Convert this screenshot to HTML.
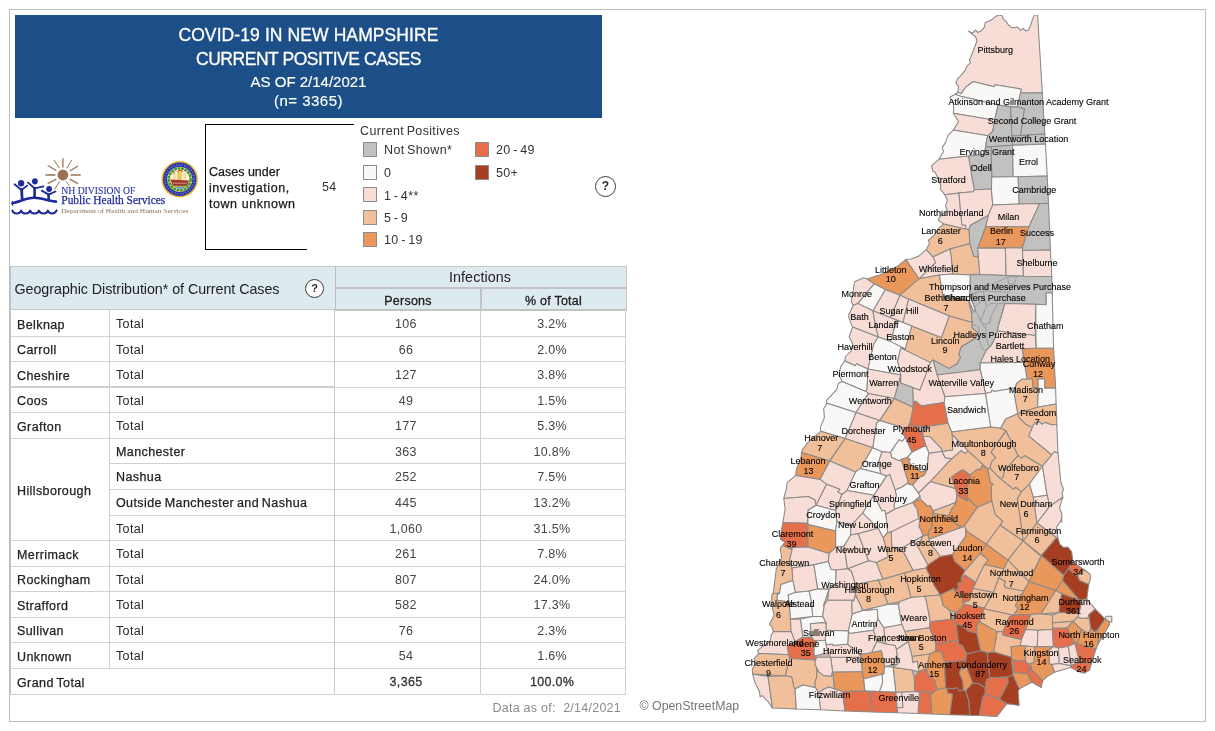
<!DOCTYPE html>
<html lang="en">
<head>
<meta charset="utf-8">
<title>COVID-19 in New Hampshire - Current Positive Cases</title>
<style>
html,body{margin:0;padding:0;background:#fff;}
body{width:1215px;height:731px;position:relative;overflow:hidden;font-family:"Liberation Sans",sans-serif;color:#333;}
.abs{position:absolute;white-space:nowrap;}
#frame{position:absolute;left:9px;top:9px;width:1195px;height:711px;border:1px solid #bdbdbd;}
#hdr{position:absolute;left:15px;top:15px;width:587px;height:103px;background:#1c4e87;color:#fff;}
#hdr div{position:absolute;left:0;width:587px;text-align:center;white-space:nowrap;}
.t1{font-size:17.5px;letter-spacing:0.1px;-webkit-text-stroke:0.3px #fff;}
.t2{font-size:15px;-webkit-text-stroke:0.15px #fff;}
.lg{font-size:12.5px;color:#333;letter-spacing:0.35px;word-spacing:-1.3px;}
.sw{position:absolute;width:12px;height:13px;border:1px solid #8c8c8c;}
.help{position:absolute;width:19px;height:19px;border:1px solid #3c3c3c;border-radius:50%;text-align:center;font-size:12px;font-weight:bold;line-height:19.5px;color:#2a2a2a;background:#fff;}
.hl{position:absolute;background:#d0d0d0;height:1px;}
.vl{position:absolute;background:#d0d0d0;width:1px;}
.bx{font-size:12.5px;color:#1a1a1a;letter-spacing:0.55px;-webkit-text-stroke:0.25px #1a1a1a;}
.th1{font-size:14.3px;color:#222;letter-spacing:-0.05px;}
.th2{font-size:12.5px;color:#222;letter-spacing:0.25px;-webkit-text-stroke:0.3px #222;}
.gt{color:#222;-webkit-text-stroke:0.3px #222;}
.rl{font-size:12.5px;color:#222;letter-spacing:0.4px;word-spacing:-1px;-webkit-text-stroke:0.25px #222;}
.rt{font-size:12.5px;color:#262626;letter-spacing:0.35px;}
.num{font-size:12.5px;color:#444;text-align:center;width:120px;letter-spacing:0.3px;}
</style>
</head>
<body>
<div id="frame"></div>
<div id="hdr">
<div class="t1" style="top:9.5px;">COVID-19 IN NEW HAMPSHIRE</div>
<div class="t1" style="top:33.5px;letter-spacing:-0.45px;">CURRENT POSITIVE CASES</div>
<div class="t2" style="top:58px;">AS OF 2/14/2021</div>
<div class="t2" style="top:76.5px;letter-spacing:0.5px;">(n= 3365)</div>
</div>
<svg class="abs" style="left:10px;top:150px;" width="195" height="70" viewBox="10 150 195 70">
<g stroke="#9a7252" stroke-width="1.3" stroke-linecap="butt" fill="none">
<circle cx="62.9" cy="175" r="5.4" fill="#9a7252" stroke="none"/>
<path d="M62.9 158.3V167.6M45.5 175H55.4M70.6 175H80.7M47.7 165.5L56.3 170.5M78 166L69.7 171M47.7 183.6L56.3 179.1M78 183.6L69.7 179.1"/>
<path stroke-width="1" d="M54 160.1L59.5 168.3M71.7 160.1L66.7 168.3M54.5 189.5L59.5 181.3M69.4 185.6L65.8 181.3"/>
</g>
<g fill="#1c2a9c" stroke="none">
<ellipse cx="21.1" cy="183.2" rx="3.1" ry="3.3"/>
<ellipse cx="34.9" cy="181.3" rx="2.9" ry="3.1"/>
<ellipse cx="49.1" cy="189" rx="2.9" ry="2.9"/>
</g>
<g stroke="#1c2a9c" fill="none" stroke-linecap="round" stroke-linejoin="round">
<path stroke-width="1.8" d="M14.5 184.3L21.5 190L27.2 185.6"/>
<path stroke-width="2.8" d="M21.6 189.5L22.2 199.5"/>
<path stroke-width="1.8" d="M28 182.6L34.6 188.3L43.5 186.4"/>
<path stroke-width="2.6" d="M34.6 188.3V197.5"/>
<path stroke-width="1.8" d="M41.8 190.6L48.6 194.6L55.4 191.5"/>
<path stroke-width="2.6" d="M48.6 194.6V200"/>
<path stroke-width="2.6" d="M12.6 203.2C22 201 26 197.8 34 197.8C42 197.8 48 201 56 201.6"/>
<path stroke-width="1.4" d="M12.4 205L12.4 201.8"/>
<path stroke-width="2" d="M12.4 210.4C13.5 214.5 19.5 214.5 21.2 210.6C22.5 214.5 28.5 214.5 30.1 210.6C31.5 214.5 37.5 214.5 39 210.6C40.5 214.5 46.5 214.5 47.9 210.6C49.5 214.5 55 214.5 56.6 210.4"/>
</g>
<g font-family="'Liberation Serif',serif">
<text x="61.3" y="194.3" font-size="9.4" fill="#2f3ba6" stroke="#2f3ba6" stroke-width="0.15" textLength="74" lengthAdjust="spacingAndGlyphs">NH DIVISION OF</text>
<text x="61.3" y="204.3" font-size="12" fill="#1c2a9c" stroke="#1c2a9c" stroke-width="0.25" textLength="104" lengthAdjust="spacingAndGlyphs">Public Health Services</text>
<text x="61.3" y="212.8" font-size="7" fill="#8c6e58" textLength="127" lengthAdjust="spacingAndGlyphs">Department of Health and Human Services</text>
</g>
<g>
<circle cx="179.7" cy="179.3" r="18.2" fill="#f0b42e"/>
<circle cx="179.7" cy="179.3" r="16.7" fill="#2234b6"/>
<circle cx="179.7" cy="179.3" r="14.6" fill="none" stroke="#d8b860" stroke-opacity="0.55" stroke-width="2" stroke-dasharray="1 1.7"/>
<circle cx="179.7" cy="179.3" r="12.6" fill="#f4d27a"/>
<circle cx="179.7" cy="179.3" r="10.9" fill="none" stroke="#2c9a42" stroke-width="2.5" stroke-dasharray="2.6 0.9"/>
<circle cx="179.7" cy="179.3" r="9.5" fill="#fdf4dc"/>
<clipPath id="sealclip"><circle cx="179.7" cy="179.3" r="9.5"/></clipPath>
<g clip-path="url(#sealclip)">
<rect x="168" y="182.5" width="24" height="10" fill="#f0a226"/>
<path d="M170 184.5L176 182.5H184L190 184.5V186H170Z" fill="#3f9a48"/>
<ellipse cx="181" cy="189" rx="6.5" ry="2.4" fill="#4aa2e4"/>
<rect x="173.4" y="172.8" width="2.4" height="7" fill="#f3dc98"/>
<rect x="177.2" y="171.2" width="4.6" height="9" fill="#f2c658"/>
<rect x="183.4" y="172.8" width="2.6" height="7" fill="#f3dc98"/>
<path d="M177.5 171.6L180 169.9L183 171.6" stroke="#d8402c" stroke-width="1.1" fill="none"/>
<path d="M172.6 173.4L175 171.6" stroke="#e06a6a" stroke-width="1.3" fill="none"/>
<path d="M170 179.6L189.4 180.6L187.2 185.4H173.2Z" fill="#a6362a"/>
<rect x="173" y="182.7" width="13.8" height="1.1" fill="#c48a84"/>
</g>
</g>
</svg>

<div class="abs" style="left:205px;top:124px;width:1px;height:126px;background:#000;"></div>
<div class="abs" style="left:205px;top:124px;width:149px;height:1px;background:#000;"></div>
<div class="abs" style="left:205px;top:249px;width:102px;height:1px;background:#000;"></div>
<div class="abs bx" style="left:209px;top:165px;letter-spacing:0;">Cases under</div>
<div class="abs bx" style="left:209px;top:181px;">investigation,</div>
<div class="abs bx" style="left:209px;top:197px;">town unknown</div>
<div class="abs lg" style="left:322px;top:180px;">54</div>
<div class="abs lg" style="left:360px;top:124px;">Current Positives</div>
<div class="sw" style="left:363px;top:142px;background:#c3c1c0;"></div>
<div class="sw" style="left:363px;top:165px;background:#faf8f7;"></div>
<div class="sw" style="left:363px;top:187px;background:#f8ddd6;"></div>
<div class="sw" style="left:363px;top:210px;background:#f1c09b;"></div>
<div class="sw" style="left:363px;top:232px;background:#e9975a;"></div>
<div class="sw" style="left:475px;top:142px;background:#e56f4a;"></div>
<div class="sw" style="left:475px;top:165px;background:#a63f21;"></div>
<div class="abs lg" style="left:384px;top:143px;">Not Shown*</div>
<div class="abs lg" style="left:384px;top:166px;">0</div>
<div class="abs lg" style="left:384px;top:188.5px;">1 - 4**</div>
<div class="abs lg" style="left:384px;top:211px;">5 - 9</div>
<div class="abs lg" style="left:384px;top:233px;">10 - 19</div>
<div class="abs lg" style="left:496px;top:143px;">20 - 49</div>
<div class="abs lg" style="left:496px;top:166px;">50+</div>
<div class="help" style="left:595px;top:176px;">?</div>

<div class="abs" style="left:10px;top:266px;width:617px;height:44px;background:#ddeaf0;"></div>
<div class="hl" style="left:10px;top:266px;width:617px;background:#c6c6c6;"></div>
<div class="vl" style="left:335px;top:266px;height:45px;background:#bdbdbd;"></div>
<div class="hl" style="left:336px;top:287px;width:291px;height:2px;background:#c2c2c2;"></div>
<div class="hl" style="left:10px;top:309px;width:325px;height:1px;background:#c6c6c6;"></div>
<div class="hl" style="left:335px;top:309px;width:292px;height:2px;background:#c2c2c2;"></div>
<div class="vl" style="left:480px;top:289px;height:21px;width:2px;background:#c2c2c2;"></div>
<div class="vl" style="left:626px;top:266px;height:45px;background:#c6c6c6;"></div>
<div class="abs th1" style="left:14.5px;top:281px;">Geographic Distribution* of Current Cases</div>
<div class="help" style="left:305px;top:279px;width:17px;height:17px;line-height:17.5px;font-size:11px;">?</div>
<div class="abs th1" style="left:380px;top:268.5px;width:200px;text-align:center;letter-spacing:0.1px;">Infections</div>
<div class="abs th2" style="left:335px;top:294px;width:146px;text-align:center;">Persons</div>
<div class="abs th2" style="left:481px;top:294px;width:145px;text-align:center;">% of Total</div>
<div class="vl" style="left:10px;top:266px;height:429px;background:#c4c4c4;"></div>
<div class="vl" style="left:109px;top:310px;height:358px;"></div>
<div class="vl" style="left:334px;top:310px;height:384px;background:#c8c8c8;"></div>
<div class="vl" style="left:480px;top:310px;height:384px;"></div>
<div class="vl" style="left:625px;top:310px;height:384px;"></div>
<div class="hl" style="left:10px;top:336px;width:325px;"></div>
<div class="hl" style="left:335px;top:336px;width:291px;"></div>
<div class="hl" style="left:10px;top:361px;width:325px;"></div>
<div class="hl" style="left:335px;top:361px;width:291px;"></div>
<div class="hl" style="left:10px;top:386px;width:325px;height:2px;"></div>
<div class="hl" style="left:335px;top:387px;width:291px;"></div>
<div class="hl" style="left:10px;top:412px;width:325px;"></div>
<div class="hl" style="left:335px;top:412px;width:291px;"></div>
<div class="hl" style="left:10px;top:438px;width:325px;"></div>
<div class="hl" style="left:335px;top:438px;width:291px;"></div>
<div class="hl" style="left:109px;top:463px;width:226px;"></div>
<div class="hl" style="left:335px;top:463px;width:291px;"></div>
<div class="hl" style="left:109px;top:489px;width:226px;"></div>
<div class="hl" style="left:335px;top:489px;width:291px;"></div>
<div class="hl" style="left:109px;top:515px;width:226px;"></div>
<div class="hl" style="left:335px;top:515px;width:291px;"></div>
<div class="hl" style="left:10px;top:540px;width:325px;"></div>
<div class="hl" style="left:335px;top:540px;width:291px;"></div>
<div class="hl" style="left:10px;top:566px;width:325px;"></div>
<div class="hl" style="left:335px;top:566px;width:291px;"></div>
<div class="hl" style="left:10px;top:591px;width:325px;"></div>
<div class="hl" style="left:335px;top:591px;width:291px;"></div>
<div class="hl" style="left:10px;top:617px;width:325px;"></div>
<div class="hl" style="left:335px;top:617px;width:291px;"></div>
<div class="hl" style="left:10px;top:642px;width:325px;"></div>
<div class="hl" style="left:335px;top:642px;width:291px;"></div>
<div class="hl" style="left:10px;top:668px;width:325px;"></div>
<div class="hl" style="left:335px;top:668px;width:291px;"></div>
<div class="hl" style="left:10px;top:694px;width:325px;"></div>
<div class="hl" style="left:335px;top:694px;width:291px;"></div>
<div class="abs rl" style="left:17px;top:317.7px;">Belknap</div>
<div class="abs rt" style="left:116px;top:317.2px;">Total</div>
<div class="abs num" style="left:346px;top:317.2px;">106</div>
<div class="abs num" style="left:492px;top:317.2px;">3.2%</div>
<div class="abs rl" style="left:17px;top:343.2px;">Carroll</div>
<div class="abs rt" style="left:116px;top:342.7px;">Total</div>
<div class="abs num" style="left:346px;top:342.7px;">66</div>
<div class="abs num" style="left:492px;top:342.7px;">2.0%</div>
<div class="abs rl" style="left:17px;top:368.7px;">Cheshire</div>
<div class="abs rt" style="left:116px;top:368.2px;">Total</div>
<div class="abs num" style="left:346px;top:368.2px;">127</div>
<div class="abs num" style="left:492px;top:368.2px;">3.8%</div>
<div class="abs rl" style="left:17px;top:394.2px;">Coos</div>
<div class="abs rt" style="left:116px;top:393.7px;">Total</div>
<div class="abs num" style="left:346px;top:393.7px;">49</div>
<div class="abs num" style="left:492px;top:393.7px;">1.5%</div>
<div class="abs rl" style="left:17px;top:419.7px;">Grafton</div>
<div class="abs rt" style="left:116px;top:419.2px;">Total</div>
<div class="abs num" style="left:346px;top:419.2px;">177</div>
<div class="abs num" style="left:492px;top:419.2px;">5.3%</div>
<div class="abs rl" style="left:116px;top:444.7px;">Manchester</div>
<div class="abs num" style="left:346px;top:444.7px;">363</div>
<div class="abs num" style="left:492px;top:444.7px;">10.8%</div>
<div class="abs rl" style="left:116px;top:470.2px;">Nashua</div>
<div class="abs num" style="left:346px;top:470.2px;">252</div>
<div class="abs num" style="left:492px;top:470.2px;">7.5%</div>
<div class="abs rl" style="left:116px;top:496.2px;">Outside Manchester and Nashua</div>
<div class="abs num" style="left:346px;top:496.2px;">445</div>
<div class="abs num" style="left:492px;top:496.2px;">13.2%</div>
<div class="abs rt" style="left:116px;top:521.7px;">Total</div>
<div class="abs num" style="left:346px;top:521.7px;">1,060</div>
<div class="abs num" style="left:492px;top:521.7px;">31.5%</div>
<div class="abs rl" style="left:17px;top:547.7px;">Merrimack</div>
<div class="abs rt" style="left:116px;top:547.2px;">Total</div>
<div class="abs num" style="left:346px;top:547.2px;">261</div>
<div class="abs num" style="left:492px;top:547.2px;">7.8%</div>
<div class="abs rl" style="left:17px;top:573.2px;">Rockingham</div>
<div class="abs rt" style="left:116px;top:572.7px;">Total</div>
<div class="abs num" style="left:346px;top:572.7px;">807</div>
<div class="abs num" style="left:492px;top:572.7px;">24.0%</div>
<div class="abs rl" style="left:17px;top:598.7px;">Strafford</div>
<div class="abs rt" style="left:116px;top:598.2px;">Total</div>
<div class="abs num" style="left:346px;top:598.2px;">582</div>
<div class="abs num" style="left:492px;top:598.2px;">17.3%</div>
<div class="abs rl" style="left:17px;top:624.2px;">Sullivan</div>
<div class="abs rt" style="left:116px;top:623.7px;">Total</div>
<div class="abs num" style="left:346px;top:623.7px;">76</div>
<div class="abs num" style="left:492px;top:623.7px;">2.3%</div>
<div class="abs rl" style="left:17px;top:649.7px;">Unknown</div>
<div class="abs rt" style="left:116px;top:649.2px;">Total</div>
<div class="abs num" style="left:346px;top:649.2px;">54</div>
<div class="abs num" style="left:492px;top:649.2px;">1.6%</div>
<div class="abs rl" style="left:17px;top:675.7px;">Grand Total</div>
<div class="abs num gt" style="left:346px;top:675.2px;">3,365</div>
<div class="abs num gt" style="left:492px;top:675.2px;">100.0%</div>
<div class="abs rl" style="left:17px;top:483.7px;">Hillsborough</div>
<div class="abs" style="left:421px;top:700.8px;width:200px;text-align:right;font-size:12.5px;color:#8a8a8a;letter-spacing:0.25px;">Data as of:&nbsp; 2/14/2021</div>
<svg class="abs" style="left:630px;top:15px;" width="576" height="707" viewBox="630 15 576 707">
<polygon fill="#c9b4aa" stroke="none" points="752.2,669.2 752.2,669.2 752.6,674.1 752.6,674.1 752.6,674.2 754.9,682.4 754.9,682.4 754.9,682.4 759.4,691.4 759.5,691.6 759.5,691.7 759.5,691.8 760.1,696.9 760.1,696.9 760.2,696.9 761.3,696.1 761.4,696.1 761.5,696.0 761.6,696.0 761.7,695.9 761.9,695.9 762.0,695.9 762.1,695.9 762.2,695.9 762.3,696.0 762.4,696.0 762.5,696.1 762.6,696.1 762.7,696.2 762.8,696.3 767.3,700.8 767.4,700.8 767.4,700.9 772.6,708.1 772.7,708.1 772.7,708.1 796.4,709.0 820.7,709.8 820.7,709.8 845.1,711.1 845.1,711.1 872.7,712.0 897.7,712.7 897.8,712.7 918.0,713.6 918.0,713.6 931.9,714.0 931.9,714.0 949.6,714.7 969.8,715.3 979.3,715.6 979.3,715.6 997.0,716.4 997.0,716.4 997.1,716.4 1006.5,704.3 1006.6,704.2 1006.7,704.1 1006.8,704.0 1006.8,704.0 1006.9,703.9 1007.1,703.9 1007.2,703.9 1007.3,703.8 1007.4,703.8 1007.5,703.8 1007.6,703.8 1019.2,705.4 1019.2,705.4 1019.2,705.4 1018.1,691.4 1018.1,691.3 1018.2,691.1 1018.2,691.0 1018.2,690.9 1018.2,690.8 1018.3,690.7 1018.3,690.6 1019.3,689.2 1019.3,689.1 1019.4,689.0 1019.5,688.9 1019.6,688.8 1019.7,688.8 1028.0,684.3 1028.0,684.3 1031.4,682.6 1031.5,682.6 1031.6,682.5 1031.7,682.5 1031.8,682.5 1031.9,682.5 1032.1,682.5 1032.2,682.5 1032.3,682.6 1032.4,682.6 1032.5,682.6 1041.1,687.6 1041.2,687.6 1041.2,687.6 1042.6,681.2 1042.6,681.1 1042.6,681.0 1042.7,680.9 1042.7,680.8 1042.8,680.7 1042.9,680.6 1046.5,677.0 1046.5,677.0 1046.6,676.9 1046.7,676.8 1054.4,672.4 1054.5,672.3 1054.6,672.3 1070.1,667.6 1070.2,667.5 1070.3,667.5 1070.4,667.5 1070.5,667.5 1070.7,667.6 1070.8,667.6 1070.9,667.6 1071.0,667.7 1078.2,671.6 1078.2,671.6 1078.2,671.6 1084.1,673.2 1084.1,673.2 1084.1,673.2 1089.4,670.3 1089.4,670.3 1089.4,670.3 1091.4,663.7 1091.4,663.7 1095.9,649.1 1096.0,648.9 1097.9,644.7 1098.0,644.6 1109.8,624.0 1109.8,624.0 1109.8,623.9 1109.7,623.9 1109.7,623.8 1109.6,623.6 1109.6,623.5 1109.6,623.4 1109.6,623.3 1109.6,623.2 1109.6,623.1 1109.6,622.9 1109.7,622.8 1109.7,622.7 1109.8,622.6 1109.9,622.5 1109.9,622.4 1110.0,622.4 1110.1,622.3 1110.2,622.2 1110.3,622.2 1110.4,622.1 1110.5,622.1 1110.7,622.1 1110.8,622.1 1110.9,622.1 1111.0,622.1 1111.7,622.3 1111.8,622.3 1111.8,622.2 1111.8,616.4 1111.8,616.3 1111.7,616.3 1105.9,616.3 1105.8,616.3 1105.8,616.4 1105.7,616.9 1105.7,617.0 1105.6,617.1 1105.6,617.2 1105.5,617.3 1105.4,617.4 1105.3,617.5 1105.3,617.6 1105.2,617.6 1105.1,617.7 1105.0,617.7 1104.9,617.8 1104.7,617.8 1104.6,617.8 1104.5,617.8 1104.4,617.8 1104.3,617.8 1104.2,617.8 1104.1,617.7 1104.0,617.7 1103.9,617.6 1103.8,617.5 1103.7,617.5 1095.3,609.1 1095.3,609.1 1087.1,599.5 1087.0,599.4 1087.0,599.3 1086.9,599.2 1086.9,599.1 1086.8,599.0 1086.8,598.9 1086.8,598.8 1086.8,598.7 1086.8,598.6 1088.7,584.6 1088.7,584.5 1088.7,584.4 1090.7,577.9 1090.7,577.9 1090.7,577.9 1090.0,574.0 1090.0,573.9 1090.0,573.9 1084.8,570.0 1084.7,570.0 1078.2,566.1 1078.1,566.0 1073.3,562.4 1073.2,562.3 1073.2,562.2 1073.1,562.1 1073.0,562.0 1073.0,561.9 1072.9,561.8 1072.9,561.7 1072.9,561.6 1072.3,556.8 1071.6,551.6 1071.6,551.6 1071.6,551.5 1067.7,547.0 1067.6,547.0 1067.6,547.0 1064.2,547.5 1064.1,547.5 1064.0,547.5 1063.9,547.5 1063.8,547.5 1063.7,547.5 1063.6,547.4 1063.5,547.4 1063.4,547.3 1063.3,547.2 1060.0,544.5 1059.9,544.5 1059.9,544.4 1059.8,544.3 1059.7,544.2 1059.7,544.1 1059.6,544.0 1057.8,537.8 1057.8,537.7 1057.8,537.6 1056.5,527.6 1056.5,527.5 1056.5,527.4 1056.5,527.3 1056.6,527.1 1056.6,527.0 1056.7,526.9 1056.7,526.8 1059.8,522.4 1059.9,522.3 1060.0,522.2 1060.0,522.2 1060.1,522.1 1060.2,522.0 1060.3,522.0 1060.5,521.9 1060.6,521.9 1060.7,521.9 1060.8,521.9 1060.9,521.9 1061.0,521.9 1061.1,521.9 1061.2,522.0 1061.3,522.0 1061.4,522.1 1061.5,522.2 1061.6,522.2 1061.6,522.2 1061.9,514.3 1061.9,514.3 1061.9,514.3 1059.7,508.1 1059.7,508.0 1059.7,507.9 1059.6,507.7 1059.6,507.6 1059.7,507.5 1059.7,507.4 1059.7,507.3 1062.9,497.2 1062.9,497.2 1062.9,497.1 1062.0,493.6 1062.0,493.5 1062.0,493.3 1062.0,493.2 1062.0,493.1 1062.1,493.0 1062.1,492.9 1063.5,489.3 1063.5,489.3 1063.5,489.2 1061.0,482.8 1060.9,482.7 1060.9,482.6 1060.9,482.5 1058.0,453.1 1058.0,453.0 1057.0,430.0 1056.9,430.0 1056.9,424.3 1056.9,424.3 1056.1,403.9 1056.1,403.9 1055.6,388.1 1055.6,388.1 1053.6,348.3 1053.6,348.3 1052.2,292.9 1052.2,292.9 1051.8,276.4 1051.8,276.4 1050.4,250.0 1050.4,250.0 1048.5,203.3 1047.2,176.0 1045.5,143.9 1045.5,143.9 1044.9,134.1 1044.8,134.1 1042.4,92.7 1037.6,15.0 1037.6,15.0 1037.6,15.0 1034.3,15.0 1034.3,15.0 1034.3,15.0 1032.4,19.9 1032.3,19.9 1031.0,24.4 1031.0,24.5 1031.0,24.6 1028.6,29.6 1028.5,29.7 1028.5,29.8 1028.4,29.9 1028.3,30.0 1028.2,30.0 1028.2,30.1 1028.1,30.1 1028.0,30.2 1026.5,30.8 1026.4,30.8 1026.3,30.8 1026.2,30.9 1026.0,30.9 1025.9,30.9 1025.8,30.8 1025.7,30.8 1025.6,30.8 1025.5,30.7 1025.4,30.7 1025.3,30.6 1025.2,30.5 1023.1,28.5 1023.1,28.4 1023.1,28.5 1021.4,29.8 1021.3,29.8 1021.2,29.9 1021.0,29.9 1020.9,30.0 1020.8,30.0 1020.7,30.0 1020.6,30.0 1020.5,30.0 1020.4,30.0 1020.2,29.9 1020.1,29.9 1020.0,29.8 1019.9,29.8 1019.8,29.7 1019.8,29.6 1017.2,26.9 1017.2,26.9 1017.2,26.9 1012.5,27.7 1012.4,27.7 1012.2,27.7 1012.1,27.7 1012.0,27.7 1011.9,27.7 1011.8,27.6 1011.7,27.6 1011.6,27.5 1011.5,27.4 1008.8,25.3 1008.7,25.2 1008.6,25.1 1008.5,25.0 1006.0,21.2 1006.0,21.2 1006.0,21.2 1003.7,19.4 1003.6,19.4 1003.5,19.3 1003.4,19.2 1003.3,19.1 1003.3,19.0 1003.2,18.9 1002.1,15.6 1002.0,15.5 1002.0,15.5 998.1,15.0 998.1,15.0 998.1,15.0 994.8,17.2 994.8,17.3 991.0,20.2 990.9,20.2 990.8,20.3 990.7,20.3 985.4,22.5 985.3,22.5 985.3,22.5 984.3,26.8 984.3,26.9 984.3,27.1 984.2,27.2 984.2,27.3 984.1,27.3 981.2,30.8 981.1,30.9 981.0,31.0 980.9,31.1 980.8,31.1 980.7,31.2 978.5,32.1 978.4,32.1 978.3,32.1 978.2,32.1 978.0,32.2 977.9,32.1 977.8,32.1 977.7,32.1 977.6,32.1 977.5,32.0 977.4,32.0 977.3,31.9 977.2,31.8 977.1,31.7 975.7,30.0 975.7,30.0 975.7,30.0 973.0,32.5 972.9,32.6 972.8,32.6 972.7,32.7 972.6,32.7 972.5,32.8 972.4,32.8 972.3,32.8 972.2,32.8 972.0,32.8 971.9,32.8 971.8,32.7 971.7,32.7 968.5,31.1 968.5,31.1 968.5,31.1 975.4,36.8 975.5,36.8 975.6,36.9 975.7,37.0 975.7,37.1 975.8,37.2 975.8,37.3 976.9,40.5 976.9,40.7 976.9,40.8 977.0,40.9 977.0,41.0 976.9,41.1 976.9,41.2 976.9,41.4 973.7,49.5 973.7,49.5 971.1,56.1 969.5,60.0 969.5,60.0 969.5,60.1 970.2,62.0 970.2,62.1 970.3,62.2 970.3,62.3 970.3,62.4 970.3,62.6 970.2,62.7 970.2,62.8 970.1,62.9 970.1,63.0 970.0,63.1 969.9,63.2 967.2,65.9 967.2,66.0 967.1,66.0 964.6,71.1 964.5,71.2 964.4,71.3 960.6,75.8 960.5,75.9 957.3,79.1 957.3,79.1 957.3,79.2 956.0,83.1 956.0,83.1 956.0,83.1 958.3,86.0 958.4,86.1 958.4,86.2 958.5,86.3 958.5,86.4 958.5,86.5 958.5,86.6 958.6,86.8 958.5,86.9 958.0,91.8 958.0,91.9 958.0,92.0 957.9,92.1 957.9,92.2 957.8,92.3 957.7,92.4 957.7,92.5 957.6,92.5 957.5,92.6 955.2,94.2 955.1,94.2 949.8,97.2 949.8,97.2 949.8,97.2 953.1,102.3 953.2,102.4 953.2,102.6 953.3,102.7 953.3,102.8 953.3,102.9 953.8,110.8 953.8,110.9 953.8,111.1 953.8,111.2 953.3,113.2 953.3,113.2 953.3,113.2 958.2,120.9 958.3,121.0 958.3,121.1 958.3,121.3 958.4,121.4 958.4,121.5 958.4,121.6 958.4,121.7 958.3,121.9 958.3,122.0 958.3,122.1 958.2,122.2 953.4,130.0 953.3,130.1 953.2,130.2 948.1,135.4 948.1,135.4 948.0,135.4 945.5,142.5 945.4,142.6 945.4,142.7 942.2,147.9 942.1,147.9 942.1,147.9 943.3,151.3 943.3,151.4 943.3,151.5 943.3,151.7 943.3,151.8 943.3,151.9 943.3,152.0 943.3,152.1 943.2,152.2 943.2,152.3 938.9,159.2 938.9,159.3 938.8,159.4 938.7,159.5 931.6,165.7 931.6,165.7 931.6,165.7 932.9,171.6 932.9,171.6 932.9,171.6 934.3,171.9 934.4,171.9 934.6,172.0 934.7,172.0 934.8,172.1 934.9,172.1 935.0,172.2 935.0,172.3 935.1,172.4 935.2,172.5 938.2,178.5 938.2,178.6 940.7,184.9 940.7,185.0 940.8,185.1 940.8,185.2 940.8,185.3 940.8,185.4 940.8,185.5 940.2,189.1 940.2,189.1 940.2,189.1 944.7,194.5 944.7,194.6 944.8,194.7 944.8,194.8 947.2,199.9 947.3,200.0 947.3,200.1 947.3,200.2 947.3,200.3 947.3,200.4 947.3,200.5 947.3,200.7 947.3,200.8 945.4,206.2 945.4,206.2 945.4,206.3 946.9,208.7 947.0,208.8 947.0,208.9 947.1,209.0 947.1,209.2 947.1,209.3 947.1,209.4 947.1,209.5 947.1,209.6 947.0,209.7 947.0,209.8 946.9,209.9 946.9,210.0 946.8,210.1 946.7,210.2 939.5,217.4 939.5,217.4 939.5,217.5 938.2,220.0 938.2,220.1 938.2,220.1 942.2,223.1 942.3,223.2 942.4,223.3 942.5,223.4 942.6,223.5 942.6,223.6 942.7,223.7 942.7,223.8 942.7,223.9 942.7,224.0 942.7,224.1 942.7,224.3 942.7,224.4 942.6,224.5 942.6,224.6 942.5,224.7 942.5,224.8 942.4,224.9 942.3,225.0 939.5,227.3 939.5,227.3 939.5,227.3 934.3,235.1 934.3,235.2 934.2,235.2 934.1,235.3 928.3,240.5 928.3,240.5 928.3,240.5 929.4,242.6 929.4,242.7 929.4,242.8 929.5,242.9 929.5,243.0 929.5,243.2 929.5,243.3 929.4,243.4 929.4,243.5 929.4,243.6 926.5,249.5 926.4,249.6 926.3,249.7 926.2,249.8 926.1,249.9 918.6,256.1 918.5,256.2 918.4,256.3 918.3,256.3 918.2,256.4 911.3,258.9 911.2,258.9 911.1,258.9 905.9,259.6 905.8,259.6 905.8,259.6 898.0,265.8 897.9,265.9 897.8,266.0 879.6,275.1 879.5,275.1 879.4,275.1 867.4,278.9 867.3,279.0 867.2,279.0 867.1,279.0 866.9,279.0 866.8,279.0 866.7,278.9 866.6,278.9 863.7,277.8 863.7,277.8 863.7,277.8 854.5,281.7 854.5,281.7 854.5,281.7 853.2,290.9 853.2,290.9 851.2,301.4 851.2,301.5 851.2,301.5 852.9,304.9 853.0,305.0 853.0,305.1 853.0,305.2 853.0,305.4 853.0,305.5 853.0,305.6 853.0,305.7 853.0,305.8 852.9,305.9 848.2,315.9 848.2,315.9 848.2,316.0 852.4,326.7 852.4,326.8 852.4,327.0 852.4,327.1 852.4,327.2 852.4,327.3 852.4,327.4 852.4,327.5 849.2,337.0 849.2,337.0 849.2,337.0 852.5,343.6 852.5,343.7 852.6,343.8 852.6,344.0 852.6,344.1 852.6,344.2 852.6,344.3 852.6,344.4 851.4,350.2 851.4,350.3 851.4,350.4 851.3,350.6 851.3,350.7 851.2,350.8 851.1,350.8 845.4,356.5 845.4,356.5 845.4,356.5 844.8,360.8 844.8,360.9 844.8,361.0 844.7,361.2 844.7,361.3 844.6,361.4 840.8,366.4 840.8,366.4 840.8,366.4 838.9,375.6 838.9,375.6 838.9,375.6 840.7,378.1 840.8,378.2 840.8,378.3 840.9,378.4 841.7,380.5 841.8,380.6 841.8,380.7 841.8,380.8 841.8,381.0 841.8,381.1 841.8,381.2 841.8,381.3 841.7,381.4 841.7,381.5 841.6,381.6 841.5,381.7 841.4,381.8 841.4,381.9 841.3,382.0 841.1,382.0 838.2,383.5 838.2,383.5 838.2,383.5 836.9,389.1 836.9,389.2 836.9,389.4 836.8,389.5 836.7,389.6 836.6,389.7 826.4,400.6 826.3,400.6 826.3,400.6 826.9,402.8 826.9,402.9 826.9,403.0 826.9,403.1 826.9,403.2 826.9,403.4 826.8,403.5 826.8,403.6 826.7,403.7 823.7,408.5 823.7,408.5 823.7,408.6 824.3,417.4 824.3,417.6 824.3,417.7 824.3,417.8 824.3,417.9 824.2,418.0 820.4,426.9 820.4,427.0 820.4,427.0 820.7,430.7 820.7,430.8 820.7,430.9 820.6,431.0 820.6,431.2 820.6,431.3 820.5,431.4 820.5,431.5 820.4,431.6 820.3,431.6 820.2,431.7 808.2,441.8 808.2,441.9 808.2,441.9 802.3,449.7 802.3,449.8 802.3,449.8 801.6,452.4 801.6,452.4 801.0,457.5 801.0,457.6 800.9,457.7 800.9,457.8 796.3,469.5 796.3,469.5 796.3,469.5 795.7,475.0 795.7,475.1 795.7,475.2 795.6,475.3 795.6,475.4 795.5,475.5 795.5,475.6 795.4,475.7 795.3,475.7 787.1,482.7 787.1,482.7 787.1,482.7 786.5,487.9 786.4,488.0 783.8,498.5 783.8,498.5 783.8,498.5 785.1,508.8 785.1,509.0 785.1,509.1 785.1,509.2 782.9,522.6 782.9,522.6 781.6,529.2 781.6,529.2 780.3,539.0 780.3,539.0 780.3,539.1 783.9,541.6 784.0,541.7 784.0,541.8 784.1,541.8 784.2,541.9 784.2,542.0 784.3,542.1 784.3,542.2 784.4,542.4 784.4,542.5 784.4,542.6 784.4,542.7 784.3,542.8 784.3,542.9 784.3,543.0 784.2,543.1 784.2,543.2 784.1,543.3 782.3,545.6 782.2,545.7 780.3,547.6 780.3,547.6 780.3,547.6 781.6,557.8 781.6,557.9 781.6,558.0 781.5,558.1 781.5,558.2 781.5,558.4 781.4,558.5 776.4,568.6 776.3,568.7 776.3,568.7 774.4,584.5 774.4,584.5 773.1,593.3 773.1,593.4 773.0,593.5 773.0,593.6 773.0,593.7 772.9,593.8 772.8,593.9 772.8,594.0 771.8,595.0 771.7,595.0 771.7,595.0 772.0,605.9 772.0,605.9 772.0,606.0 773.9,614.8 773.9,614.9 773.9,615.0 773.9,615.1 773.9,615.2 773.9,615.3 773.8,615.4 773.8,615.5 769.4,624.4 769.4,624.4 769.4,624.4 771.8,626.8 771.9,626.9 771.9,627.0 772.0,627.1 772.0,627.2 772.1,627.3 773.2,631.1 773.2,631.2 773.2,631.4 773.2,631.5 773.2,631.6 773.2,631.7 773.1,631.9 773.1,632.0 773.0,632.1 771.4,634.9 771.3,634.9 771.3,635.0 770.1,641.0 770.1,641.1 770.0,641.2 770.0,641.3 769.9,641.4 769.9,641.5 769.8,641.6 769.7,641.7 769.6,641.8 762.1,646.7 762.1,646.8 757.5,650.7 757.5,650.7 757.5,650.7 758.5,652.6 758.5,652.7 758.6,652.9 758.6,653.0 758.6,653.1 758.6,653.2 758.6,653.3 758.6,653.4 758.5,653.6 758.5,653.7 758.4,653.8 758.4,653.9 758.3,654.0 754.2,658.6 754.2,658.6 754.2,658.6 755.4,663.4 755.4,663.5 755.4,663.6 755.4,663.8 755.4,663.9 755.4,664.0 755.4,664.1 755.3,664.2 755.3,664.3 752.3,669.1 752.2,669.2"/>
<g stroke="#8a8a8a" stroke-width="1.05" stroke-linejoin="round">
<polygon fill="#f8ddd6" points="1037.6,15.0 1034.3,15.0 1032.3,19.9 1031.0,24.5 1028.4,30.0 1025.8,31.1 1023.1,28.4 1020.5,30.4 1017.2,26.9 1011.9,27.8 1008.6,25.1 1006.0,21.2 1003.4,19.2 1002.0,15.5 998.1,15.0 994.8,17.2 990.9,20.3 985.3,22.5 984.3,27.1 981.0,31.1 977.7,32.4 975.7,30.0 972.4,33.0 968.5,31.1 975.7,37.0 977.0,41.0 973.7,49.5 971.1,56.1 969.5,60.0 970.5,62.7 967.2,66.0 964.5,71.2 960.6,75.8 957.3,79.1 956.0,83.1 958.6,86.4 957.9,92.3 961.2,93.6 965.2,87.7 973.1,81.5 994.1,86.8 995.1,84.7 1021.1,89.0 1020.5,93.0 1042.3,92.7"/>
<polygon fill="#faf8f7" points="957.9,92.3 961.2,93.6 965.2,87.7 973.1,81.5 994.1,86.8 995.1,84.7 1021.1,89.0 1020.5,93.0 1017.2,107.0 998.2,105.1 983.4,101.6 960.7,96.2 955.2,94.2"/>
<polygon fill="#faf8f7" points="955.2,94.2 960.7,96.2 983.4,101.6 998.2,105.1 994.8,119.4 987.3,118.9 953.3,113.2 953.8,111.0 953.3,102.6 949.8,97.2"/>
<polygon fill="#f8ddd6" points="953.3,113.2 987.3,118.9 994.8,119.4 992.8,131.2 988.0,135.8 953.3,130.1 958.6,121.5"/>
<polygon fill="#faf8f7" points="953.3,130.1 988.0,135.8 986.9,138.2 985.6,147.2 984.3,154.5 968.5,156.1 938.9,159.3 943.5,151.8 942.1,147.9 945.4,142.6 948.1,135.4"/>
<polygon fill="#c3c1c0" points="998.2,105.1 1010.6,107.1 1011.9,136.0 1012.6,145.3 990.9,146.8 985.6,147.2 986.9,138.2 988.0,135.8 992.8,131.2 994.8,119.4"/>
<polygon fill="#c3c1c0" points="1020.5,93.0 1042.3,92.7 1044.8,134.1 1020.5,135.4 1024.4,108.7 1017.2,107.0"/>
<polygon fill="#c3c1c0" points="1010.6,107.1 1017.2,107.0 1024.4,108.7 1020.5,135.4 1011.9,136.0"/>
<polygon fill="#c3c1c0" points="1011.9,136.0 1020.5,135.4 1044.8,134.1 1045.5,143.9 1012.6,145.3"/>
<polygon fill="#c3c1c0" points="990.9,146.8 1012.6,145.3 1013.2,176.7 991.8,177.0"/>
<polygon fill="#faf8f7" points="1012.6,145.3 1045.5,143.9 1047.2,175.9 1018.1,176.7 1013.2,176.7"/>
<polygon fill="#c3c1c0" points="985.6,147.2 990.9,146.8 991.8,177.0 991.4,189.1 974.4,189.8 971.8,176.9 968.5,156.1 984.3,154.5"/>
<polygon fill="#f8ddd6" points="938.9,159.3 968.5,156.1 971.8,176.9 974.4,189.8 973.1,191.8 959.0,193.1 944.8,194.7 940.2,189.1 940.8,185.2 938.2,178.6 934.9,172.0 932.9,171.6 931.6,165.7"/>
<polygon fill="#f8ddd6" points="944.8,194.7 959.0,193.1 960.6,211.5 961.9,224.7 965.8,225.3 965.5,228.9 943.5,224.0 938.2,220.1 939.5,217.4 947.4,209.5 945.4,206.2 947.4,200.3"/>
<polygon fill="#f8ddd6" points="959.0,193.1 973.1,191.8 974.4,189.8 991.4,189.1 992.8,204.9 988.2,215.5 970.5,225.3 968.9,229.6 965.5,228.9 965.8,225.3 961.9,224.7 960.6,211.5"/>
<polygon fill="#faf8f7" points="991.8,177.0 1013.2,176.7 1018.1,176.7 1019.2,204.0 992.8,204.9 991.4,189.1"/>
<polygon fill="#c3c1c0" points="1018.1,176.7 1047.2,175.9 1048.5,203.3 1039.6,203.6 1019.2,204.0"/>
<polygon fill="#f8ddd6" points="992.8,204.9 1019.2,204.0 1039.6,203.6 1029.0,226.7 985.6,226.7 988.2,215.5"/>
<polygon fill="#e9975a" points="985.6,226.7 1029.0,226.7 1022.5,247.7 977.7,248.1"/>
<polygon fill="#c3c1c0" points="1039.6,203.6 1048.5,203.3 1050.4,250.0 1022.5,250.6 1022.5,247.7 1029.0,226.7"/>
<polygon fill="#c3c1c0" points="988.2,215.5 985.6,226.7 977.7,248.1 978.4,257.6 973.7,256.3 969.8,243.8 968.9,229.6 970.5,225.3"/>
<polygon fill="#f1c09b" points="943.5,224.0 965.5,228.9 968.9,229.6 969.8,243.8 950.0,249.0 932.9,256.9 926.3,249.7 929.6,243.1 928.3,240.5 934.2,235.2 939.5,227.3"/>
<polygon fill="#f1c09b" points="950.0,249.0 969.8,243.8 973.7,256.3 978.4,257.6 979.8,274.5 979.1,277.8 976.5,277.8 976.5,274.1 970.4,275.1 952.6,274.1 951.3,258.0"/>
<polygon fill="#f8ddd6" points="932.9,256.9 950.0,249.0 951.3,258.0 952.6,274.1 939.4,275.1 919.0,278.8 935.5,262.6"/>
<polygon fill="#f8ddd6" points="926.3,249.7 932.9,256.9 935.5,262.6 919.0,278.8 905.8,259.6 911.2,258.9 918.4,256.3"/>
<polygon fill="#e9975a" points="867.0,279.1 879.5,275.1 897.9,265.9 905.8,259.6 919.0,278.8 899.9,295.3 885.4,289.6 874.2,283.7"/>
<polygon fill="#f1c09b" points="899.9,295.3 919.0,278.8 939.4,275.1 943.1,296.6 968.6,300.4 971.7,313.3 972.3,322.5 949.3,315.9 908.5,299.1"/>
<polygon fill="#faf8f7" points="939.4,275.1 952.6,274.1 970.4,275.1 969.9,294.9 975.8,310.7 973.2,310.7 968.6,300.4 943.1,296.6"/>
<polygon fill="#f8ddd6" points="978.4,257.6 977.7,248.1 1005.4,248.1 1006.1,275.4 979.8,274.5"/>
<polygon fill="#f8ddd6" points="1005.4,248.1 1022.5,247.7 1022.5,250.6 1023.5,276.2 1006.1,275.4"/>
<polygon fill="#f8ddd6" points="1022.5,250.6 1050.4,250.0 1051.8,276.4 1023.5,276.2"/>
<polygon fill="#c3c1c0" points="970.4,275.1 979.8,274.5 1006.1,275.4 1023.5,276.2 1051.8,276.4 1052.2,292.9 1046.2,292.9 1046.2,304.8 1035.7,304.2 1004.8,303.4 1002.1,313.3 998.2,326.5 997.5,331.1 995.5,337.0 991.6,344.9 986.1,350.6 980.2,363.1 980.2,369.7 937.0,374.9 933.0,359.8 948.8,368.4 957.1,363.8 960.4,357.5 958.7,354.2 961.2,346.8 975.2,338.2 977.7,332.4 971.9,327.9 972.3,322.5 971.7,313.3 968.6,300.4 973.2,310.7 975.8,310.7 969.9,294.9"/>
<polygon fill="#faf8f7" points="1035.7,304.2 1046.2,304.8 1046.2,292.9 1052.2,292.9 1053.6,348.3 1036.1,348.2"/>
<polygon fill="#f8ddd6" points="1004.8,303.4 1035.7,304.2 1035.3,335.4 997.5,331.1 998.2,326.5 1002.1,313.3"/>
<polygon fill="#f8ddd6" points="997.5,331.1 1035.3,335.4 1036.1,348.2 1022.3,348.6 1024.3,362.4 980.2,363.1 986.1,350.6 991.6,344.9 995.5,337.0"/>
<polygon fill="#e9975a" points="1022.3,348.6 1036.1,348.2 1053.6,348.3 1055.6,388.1 1044.7,388.1 1044.7,378.9 1038.1,378.9 1038.1,387.5 1032.8,387.5 1032.2,378.9 1026.9,378.9 1024.3,362.4"/>
<polygon fill="#faf8f7" points="1038.1,378.9 1044.7,378.9 1044.7,388.1 1055.6,388.1 1056.1,403.9 1037.5,407.2 1038.1,387.5"/>
<polygon fill="#f1c09b" points="1022.3,378.9 1026.9,378.9 1032.2,378.9 1032.8,387.5 1038.1,387.5 1037.5,407.2 1017.7,413.8 1014.4,395.4 1015.1,388.1 1016.4,383.5"/>
<polygon fill="#faf8f7" points="980.2,363.1 1024.3,362.4 1026.9,378.9 1022.3,378.9 1016.4,383.5 1015.1,388.1 994.0,391.4 992.0,390.1 991.4,392.1 985.4,393.4 983.5,383.5 980.2,369.7"/>
<polygon fill="#faf8f7" points="985.4,393.4 991.4,392.1 992.0,390.1 994.0,391.4 1015.1,388.1 1014.4,395.4 1017.7,413.8 1005.8,419.1 1000.6,428.3 990.7,427.0"/>
<polygon fill="#f1c09b" points="1037.5,407.2 1056.1,403.9 1056.9,424.3 1051.9,425.0 1045.3,422.4 1042.0,424.3 1038.8,421.7 1034.8,423.0 1032.2,427.6 1025.6,424.3 1019.0,417.7 1017.7,413.8"/>
<polygon fill="#f8ddd6" points="1034.8,423.0 1038.8,421.7 1042.0,424.3 1045.3,422.4 1051.9,425.0 1056.9,424.3 1057.0,430.0 1058.0,453.0 1054.3,451.7 1051.7,455.0 1028.6,435.9 1032.2,427.6"/>
<polygon fill="#f1c09b" points="1000.6,428.3 1005.8,419.1 1017.7,413.8 1019.0,417.7 1025.6,424.3 1032.2,427.6 1028.6,435.9 1051.7,455.0 1042.5,466.2 1024.7,455.7 1021.4,458.3 1018.1,455.7 1005.9,430.9"/>
<polygon fill="#f8ddd6" points="937.0,374.9 980.2,369.7 983.5,383.5 985.4,393.4 944.9,396.7"/>
<polygon fill="#f8ddd6" points="930.4,362.4 933.0,359.8 937.0,374.9 944.9,396.7 944.2,402.6 921.1,405.9 915.9,401.3 913.2,401.9 912.6,387.5 919.8,390.1"/>
<polygon fill="#f8ddd6" points="900.7,347.9 930.4,362.4 919.8,390.1 912.6,387.5 900.7,382.9 900.7,374.9 897.5,361.1"/>
<polygon fill="#c3c1c0" points="900.7,382.9 912.6,387.5 913.2,401.9 913.2,407.2 894.1,398.6 900.7,374.9"/>
<polygon fill="#e56f4a" points="913.2,401.9 915.9,401.3 921.1,405.9 944.2,402.6 948.1,423.2 930.4,426.1 914.3,426.4 909.8,423.2 913.2,407.2"/>
<polygon fill="#f1c09b" points="894.1,398.6 913.2,407.2 909.8,423.2 907.8,426.9 904.7,428.3 879.7,420.4"/>
<polygon fill="#e56f4a" points="909.8,423.2 914.3,426.4 922.2,433.1 925.9,445.4 911.9,452.4 905.3,437.2 902.4,433.9 904.7,428.3 907.8,426.9"/>
<polygon fill="#faf8f7" points="879.7,420.4 904.7,428.3 902.4,433.9 905.3,437.2 902.4,441.3 899.1,439.7 890.5,452.4 881.9,451.7 872.7,447.8 875.4,430.0 876.4,423.0"/>
<polygon fill="#faf8f7" points="899.1,439.7 902.4,441.3 905.3,437.2 911.9,452.4 907.4,457.4 901.2,459.4 899.7,460.9 891.8,457.6 890.5,452.4"/>
<polygon fill="#faf8f7" points="911.9,452.4 925.9,445.4 929.2,453.3 928.3,456.1 927.3,469.5 921.4,472.1 910.6,464.4 908.2,461.1 910.2,459.9 907.4,457.4"/>
<polygon fill="#e9975a" points="901.2,459.4 907.4,457.4 910.2,459.9 908.2,461.1 910.6,464.4 921.4,472.1 927.3,469.5 923.8,475.8 919.7,477.0 914.8,482.4 912.7,485.2 908.2,484.0 908.3,482.7"/>
<polygon fill="#f8ddd6" points="881.9,451.7 890.5,452.4 891.8,457.6 899.7,460.9 901.2,459.4 908.3,482.7 901.7,487.3 895.1,489.9 889.8,474.8 886.5,476.1 880.6,473.7 878.6,461.6"/>
<polygon fill="#faf8f7" points="895.1,489.9 901.7,487.3 908.3,482.7 908.2,484.0 912.7,485.2 918.5,493.1 920.1,495.9 912.7,502.5 895.1,509.0 893.8,506.4 896.4,495.8"/>
<polygon fill="#f8ddd6" points="929.2,453.3 941.9,451.2 945.2,457.8 951.8,458.6 930.4,481.5 918.5,493.1 912.7,485.2 914.8,482.4 919.7,477.0 923.8,475.8 927.3,469.5 928.3,456.1"/>
<polygon fill="#f8ddd6" points="918.5,493.1 930.4,481.5 955.5,488.5 957.1,494.7 955.9,502.5 933.7,510.7 933.3,511.1 930.4,505.8 927.5,506.2 920.1,499.2 920.1,495.9"/>
<polygon fill="#e9975a" points="912.7,502.5 920.1,499.2 927.5,506.2 930.4,505.8 933.3,511.1 931.6,523.5 932.5,520.0 931.7,528.2 928.9,530.7 928.0,534.8 923.1,536.0 920.6,529.0 919.0,527.4 919.8,520.0 918.5,518.6 917.2,509.5"/>
<polygon fill="#e9975a" points="933.3,511.1 933.7,513.2 948.5,515.7 954.3,522.7 960.8,526.8 964.1,526.4 928.9,539.3 928.0,534.8 928.9,530.7 931.7,528.2 932.5,520.0 931.6,523.5"/>
<polygon fill="#f1c09b" points="933.7,510.7 955.9,502.5 954.3,506.2 951.8,508.7 951.0,511.1 948.5,515.7 933.7,513.2 933.3,511.1"/>
<polygon fill="#e9975a" points="957.1,494.7 967.0,500.9 967.8,498.0 977.3,507.4 964.1,526.4 960.8,526.8 954.3,522.7 948.5,515.7 951.0,511.1 951.8,508.7 954.3,506.2 955.9,502.5"/>
<polygon fill="#e56f4a" points="951.4,477.0 961.7,470.0 963.3,470.0 970.3,475.8 970.7,477.4 966.6,488.1 967.8,498.0 967.0,500.9 957.1,494.7 955.5,488.5"/>
<polygon fill="#e9975a" points="970.0,474.8 977.9,468.9 980.6,469.5 981.9,465.6 987.8,468.9 990.5,482.7 993.1,484.0 991.1,486.6 991.8,501.1 977.3,507.4 967.8,498.0 966.6,488.1 970.7,477.4"/>
<polygon fill="#f1c09b" points="951.8,458.6 961.3,450.4 965.0,453.3 968.2,450.8 987.8,468.9 981.9,465.6 980.6,469.5 977.9,468.9 970.0,474.8 963.3,470.0 961.7,470.0 951.4,477.0 955.5,488.5 930.4,481.5"/>
<polygon fill="#f8ddd6" points="952.2,434.6 968.2,450.8 965.0,453.3 961.3,450.4 951.8,458.6 945.2,457.8 941.9,451.2 952.6,450.0"/>
<polygon fill="#f1c09b" points="922.2,433.1 930.4,426.1 948.1,423.2 951.8,431.9 952.2,434.6 952.6,450.0 941.9,451.2 941.1,448.3 930.0,436.8 923.4,436.2"/>
<polygon fill="#f8ddd6" points="922.2,433.1 923.4,436.2 930.0,436.8 941.1,448.3 941.9,451.2 929.2,453.3 925.9,445.4"/>
<polygon fill="#faf8f7" points="944.9,396.7 985.4,393.4 990.7,427.0 951.8,431.9 948.1,423.2 944.2,402.6"/>
<polygon fill="#f1c09b" points="951.8,431.9 990.7,427.0 1000.6,428.3 1005.9,430.9 991.1,452.4 995.7,457.6 991.8,461.6 989.8,468.2 987.8,468.9 968.2,450.8 952.2,434.6"/>
<polygon fill="#f1c09b" points="1005.9,430.9 1018.1,455.7 1004.3,470.8 1003.0,477.4 1000.3,478.7 989.8,468.2 991.8,461.6 995.7,457.6 991.1,452.4"/>
<polygon fill="#f1c09b" points="1018.1,455.7 1021.4,458.3 1024.7,455.7 1042.5,466.2 1029.3,484.0 1021.4,491.9 1015.5,487.3 1013.5,489.3 1000.3,478.7 1003.0,477.4 1004.3,470.8"/>
<polygon fill="#faf8f7" points="1042.5,466.2 1047.1,495.2 1033.2,497.2 1029.3,484.0"/>
<polygon fill="#f8ddd6" points="1042.5,466.2 1051.7,455.0 1054.3,451.7 1058.0,453.0 1060.9,482.7 1063.5,489.3 1062.0,493.2 1062.9,497.2 1049.7,506.4 1047.1,495.2"/>
<polygon fill="#f1c09b" points="987.8,468.9 989.8,468.2 1000.3,478.7 1013.5,489.3 1015.5,487.3 1021.4,491.9 1017.5,498.5 1021.8,529.2 1023.1,541.0 1000.1,525.2 1002.7,521.3 995.1,514.3 991.8,501.1 991.1,486.6 993.1,484.0 990.5,482.7"/>
<polygon fill="#f1c09b" points="1017.5,498.5 1021.4,491.9 1029.3,484.0 1033.2,497.2 1037.0,523.0 1023.1,541.0 1021.8,529.2"/>
<polygon fill="#f8ddd6" points="1033.2,497.2 1047.1,495.2 1049.7,506.4 1037.0,523.0"/>
<polygon fill="#f8ddd6" points="1049.7,506.4 1062.9,497.2 1059.6,507.7 1062.0,514.3 1061.6,522.2 1061.7,516.0 1061.1,520.6 1056.5,527.2 1057.8,537.7 1056.5,537.7 1037.0,523.0"/>
<polygon fill="#f1c09b" points="1037.0,523.0 1056.5,537.7 1041.3,555.5 1023.1,541.0"/>
<polygon fill="#f1c09b" points="977.3,507.4 991.8,501.1 995.1,514.3 1002.7,521.3 1000.1,525.2 986.2,544.3 966.5,531.1 964.1,526.4"/>
<polygon fill="#f1c09b" points="911.8,325.9 941.4,337.5 949.3,315.9 972.3,322.5 971.9,327.9 977.7,332.4 975.2,338.2 961.2,346.8 958.7,354.2 960.4,357.5 957.1,363.8 948.8,368.4 933.0,359.8 930.4,362.4 900.7,347.9 905.2,348.9"/>
<polygon fill="#f8ddd6" points="908.5,299.1 949.3,315.9 941.4,337.5 911.8,325.9 902.9,322.4"/>
<polygon fill="#f8ddd6" points="899.9,295.3 908.5,299.1 902.9,322.4 890.0,317.4 893.3,310.7"/>
<polygon fill="#f8ddd6" points="885.4,289.6 899.9,295.3 893.3,310.7 890.0,317.4 872.9,310.7"/>
<polygon fill="#faf8f7" points="874.2,283.7 885.4,289.6 872.9,310.7 857.8,303.4"/>
<polygon fill="#f8ddd6" points="863.7,277.8 867.0,279.1 874.2,283.7 857.8,303.4 853.2,305.4 851.2,301.5 853.2,290.9 854.5,281.7"/>
<polygon fill="#f8ddd6" points="853.2,305.4 857.8,303.4 872.9,310.7 874.5,319.9 878.2,337.0 852.5,327.1 848.2,315.9"/>
<polygon fill="#f8ddd6" points="872.9,310.7 890.0,317.4 896.6,320.0 890.7,341.6 878.2,337.0 874.5,319.9"/>
<polygon fill="#faf8f7" points="896.6,320.0 902.9,322.4 911.8,325.9 905.2,348.9 890.7,341.6"/>
<polygon fill="#faf8f7" points="878.2,337.0 890.7,341.6 905.2,348.9 900.7,347.9 897.5,361.1 900.7,374.9 867.8,369.0 873.7,344.0"/>
<polygon fill="#f8ddd6" points="852.5,327.1 878.2,337.0 873.7,344.0 867.8,369.0 856.6,363.8 855.3,365.7 844.8,361.1 845.4,356.5 851.4,350.6 852.7,344.0 849.2,337.0"/>
<polygon fill="#faf8f7" points="844.8,361.1 855.3,365.7 856.6,363.8 867.8,369.0 867.2,388.8 865.8,391.4 842.1,381.5 840.8,378.2 838.9,375.6 840.8,366.4"/>
<polygon fill="#f8ddd6" points="867.8,369.0 900.7,374.9 894.1,398.6 868.5,393.4 865.8,391.4 867.2,388.8"/>
<polygon fill="#faf8f7" points="842.1,381.5 865.8,391.4 868.5,393.4 856.0,412.5 827.0,403.3 826.3,400.6 836.9,389.4 838.2,383.5"/>
<polygon fill="#f8ddd6" points="868.5,393.4 894.1,398.6 879.7,420.4 856.0,412.5"/>
<polygon fill="#faf8f7" points="827.0,403.3 856.0,412.5 854.0,417.7 845.1,438.6 820.7,431.3 820.4,427.0 824.4,417.7 823.7,408.5"/>
<polygon fill="#f8ddd6" points="856.0,412.5 879.7,420.4 876.4,423.0 875.4,430.0 872.7,447.8 845.1,438.6 854.0,417.7"/>
<polygon fill="#f1c09b" points="820.7,431.3 845.1,438.6 829.9,460.9 801.6,452.4 802.3,449.8 808.2,441.9"/>
<polygon fill="#f1c09b" points="845.1,438.6 872.7,447.8 860.2,468.4 855.6,472.1 829.9,460.9"/>
<polygon fill="#e9975a" points="801.6,452.4 829.9,460.9 820.0,479.4 795.7,475.4 796.3,469.5 801.0,457.6"/>
<polygon fill="#f8ddd6" points="829.9,460.9 855.6,472.1 847.0,490.6 841.8,494.5 837.8,491.9 839.8,489.3 826.6,484.2 820.0,479.4"/>
<polygon fill="#f8ddd6" points="795.7,475.4 820.0,479.4 826.6,484.2 822.7,491.9 816.1,505.3 814.8,499.8 808.2,496.5 783.8,498.5 786.5,487.9 787.1,482.7"/>
<polygon fill="#f8ddd6" points="826.6,484.2 839.8,489.3 837.8,491.9 841.8,494.5 838.5,503.7 835.8,510.6 816.1,505.3 822.7,491.9"/>
<polygon fill="#f8ddd6" points="783.8,498.5 808.2,496.5 814.8,499.8 816.1,505.3 808.2,510.3 807.9,516.0 807.3,523.2 782.9,522.6 785.1,509.0"/>
<polygon fill="#faf8f7" points="808.2,510.3 816.1,505.3 835.8,510.6 836.9,521.3 835.6,531.1 807.9,524.6 807.9,516.0"/>
<polygon fill="#faf8f7" points="872.7,447.8 881.9,451.7 878.6,461.6 880.6,473.7 860.2,468.4"/>
<polygon fill="#faf8f7" points="855.6,472.1 860.2,468.4 880.6,473.7 886.5,476.1 874.0,495.2 847.0,490.6"/>
<polygon fill="#f8ddd6" points="886.5,476.1 889.8,474.8 895.1,489.9 896.4,495.8 893.8,506.4 895.1,509.0 885.9,514.3 884.6,510.3 881.9,511.0 874.0,495.2"/>
<polygon fill="#f8ddd6" points="841.8,494.5 847.0,490.6 874.0,495.2 862.8,513.0 850.7,525.9 836.9,521.3 835.8,510.6 838.5,503.7"/>
<polygon fill="#faf8f7" points="836.9,521.3 850.7,525.9 850.7,535.1 844.1,546.3 835.6,547.0 835.6,531.1"/>
<polygon fill="#f8ddd6" points="862.8,513.0 878.2,528.2 858.0,533.8 850.7,535.1 850.7,525.9"/>
<polygon fill="#faf8f7" points="874.0,495.2 881.9,511.0 884.6,510.3 885.9,514.3 887.7,532.4 883.2,537.9 878.2,528.2 862.8,513.0"/>
<polygon fill="#f8ddd6" points="885.9,514.3 895.1,509.0 912.7,502.5 917.2,509.5 918.5,518.6 891.2,531.9 887.7,532.4"/>
<polygon fill="#f8ddd6" points="891.2,531.9 918.5,518.6 919.8,520.0 919.0,527.4 920.6,529.0 923.1,536.0 902.9,547.4 891.8,547.2"/>
<polygon fill="#f8ddd6" points="891.8,547.2 902.9,547.4 923.1,536.0 917.7,546.3 928.0,564.9 926.0,568.1 913.2,570.6 903.3,551.7"/>
<polygon fill="#f1c09b" points="917.7,546.3 923.1,536.0 928.0,534.8 928.9,539.3 932.5,547.2 935.0,549.2 938.3,553.7 940.4,556.6 928.0,564.9"/>
<polygon fill="#f8ddd6" points="928.9,539.3 964.1,526.4 965.9,529.0 965.5,536.5 952.3,554.6 940.4,556.6 938.3,553.7 935.0,549.2 932.5,547.2"/>
<polygon fill="#f1c09b" points="883.2,537.9 887.7,532.4 891.2,531.9 891.8,547.2 903.3,551.7 913.2,570.6 882.8,579.3 876.2,562.4 888.3,556.8"/>
<polygon fill="#f8ddd6" points="858.0,533.8 878.2,528.2 883.2,537.9 888.3,556.8 876.2,562.4 868.5,560.8"/>
<polygon fill="#f8ddd6" points="847.5,568.7 868.5,560.8 876.2,562.4 882.8,579.3 878.4,579.9 855.4,584.5 851.4,571.3"/>
<polygon fill="#e9975a" points="966.5,531.1 986.2,544.3 980.3,553.5 965.2,570.6 954.6,561.4 952.3,554.6 965.5,536.5 965.9,529.0"/>
<polygon fill="#a63f21" points="926.0,568.1 928.0,564.9 940.4,556.6 952.3,554.6 954.6,561.4 965.2,570.6 961.2,577.9 961.9,581.8 957.9,583.2 958.6,587.8 955.3,591.7 954.0,588.4 940.2,595.0 934.2,585.8"/>
<polygon fill="#e56f4a" points="782.9,522.6 807.3,523.2 807.9,524.6 807.9,547.0 792.1,547.6 792.1,549.6 782.3,545.6 784.9,542.3 780.3,539.0 781.6,529.2"/>
<polygon fill="#e9975a" points="807.9,524.6 835.6,531.1 835.6,547.0 834.9,548.3 829.0,553.5 807.9,547.0"/>
<polygon fill="#f1c09b" points="782.3,545.6 792.1,549.6 789.5,560.8 792.1,568.0 792.8,580.5 781.0,584.5 779.6,593.0 773.0,593.7 774.4,584.5 776.3,568.7 781.6,558.1 780.3,547.6"/>
<polygon fill="#f8ddd6" points="792.1,549.6 792.1,547.6 807.9,547.0 829.0,553.5 828.4,561.4 813.9,564.7 792.1,568.0 789.5,560.8"/>
<polygon fill="#f8ddd6" points="792.1,568.0 813.9,564.7 817.8,589.1 809.3,591.1 795.4,592.4 792.8,580.5"/>
<polygon fill="#faf8f7" points="813.9,564.7 828.4,561.4 831.0,569.3 836.2,570.0 835.6,584.5 829.0,589.1 817.8,589.1"/>
<polygon fill="#f8ddd6" points="829.0,553.5 834.9,548.3 835.6,547.0 844.1,546.3 847.5,568.7 836.2,570.0 831.0,569.3 828.4,561.4"/>
<polygon fill="#f8ddd6" points="844.1,546.3 850.7,535.1 858.0,533.8 868.5,560.8 847.5,568.7"/>
<polygon fill="#f8ddd6" points="836.2,570.0 847.5,568.7 851.4,571.3 855.4,584.5 855.4,595.0 854.0,600.3 827.7,600.3 829.0,589.1 835.6,584.5"/>
<polygon fill="#f1c09b" points="855.4,584.5 878.4,579.9 888.3,604.2 862.9,610.6 855.4,595.0"/>
<polygon fill="#f1c09b" points="878.4,579.9 882.8,579.3 904.6,573.1 911.2,597.6 900.0,601.6 888.3,604.2"/>
<polygon fill="#f1c09b" points="904.6,573.1 913.2,570.6 926.0,568.1 934.2,585.8 940.2,595.0 925.0,596.3 911.2,597.6"/>
<polygon fill="#faf8f7" points="781.0,584.5 792.8,580.5 795.4,592.4 788.2,595.0 789.1,602.0 777.0,600.3 777.0,595.0 779.6,593.0"/>
<polygon fill="#faf8f7" points="788.2,595.0 795.4,592.4 809.3,591.1 811.5,602.0 812.8,616.5 790.4,619.1 789.1,602.0"/>
<polygon fill="#faf8f7" points="809.3,591.1 817.8,589.1 829.0,589.1 823.7,605.5 824.7,602.0 822.7,616.5 812.8,616.5 811.5,602.0"/>
<polygon fill="#f1c09b" points="773.0,593.7 779.6,593.0 777.0,595.0 777.0,600.3 789.1,602.0 790.4,619.1 791.1,631.6 773.3,631.6 772.0,627.0 769.4,624.4 774.0,615.2 772.0,606.0 771.7,595.0"/>
<polygon fill="#f8ddd6" points="827.7,600.3 854.0,600.3 851.7,602.0 852.3,613.9 848.4,631.0 826.0,630.3 826.0,623.1 822.7,616.5 824.7,602.0 823.7,605.5"/>
<polygon fill="#f8ddd6" points="854.0,600.3 855.4,595.0 862.9,610.6 852.3,613.9 851.7,602.0"/>
<polygon fill="#faf8f7" points="852.3,613.9 862.9,610.6 877.3,609.2 878.0,619.1 873.4,630.3 849.7,633.6 848.4,631.0"/>
<polygon fill="#faf8f7" points="877.3,609.2 862.9,610.6 888.3,604.2 898.4,604.0 901.7,624.4 883.9,627.7 878.0,619.1"/>
<polygon fill="#f8ddd6" points="898.4,604.0 900.0,601.6 911.2,597.6 925.0,596.3 926.6,602.0 930.3,621.8 929.5,627.7 904.9,631.6 901.7,624.4"/>
<polygon fill="#f1c09b" points="925.0,596.3 940.2,595.0 942.1,600.3 943.1,605.3 949.0,609.9 953.6,619.1 930.3,621.8 926.6,602.0"/>
<polygon fill="#e9975a" points="940.2,595.0 954.0,588.4 955.3,591.7 961.9,595.0 963.2,602.9 964.1,604.6 956.9,612.5 949.0,609.9 943.1,605.3 942.1,600.3"/>
<polygon fill="#f1c09b" points="1000.1,525.2 1023.1,541.0 1008.0,560.1 986.2,544.3"/>
<polygon fill="#e9975a" points="986.2,544.3 1008.0,560.1 1004.0,568.7 984.3,564.7 988.2,560.1 980.3,553.5"/>
<polygon fill="#f1c09b" points="980.3,553.5 988.2,560.1 984.3,564.7 975.7,582.5 965.2,575.3 961.2,577.9 965.2,570.6"/>
<polygon fill="#f1c09b" points="984.3,564.7 1004.0,568.7 998.8,577.9 997.5,581.8 993.5,592.4 973.1,588.4 975.7,582.5"/>
<polygon fill="#e56f4a" points="965.2,575.3 975.7,582.5 973.1,588.4 969.8,600.3 963.2,602.9 961.9,595.0 955.3,591.7 958.6,587.8 957.9,583.2 961.9,581.8 961.2,577.9"/>
<polygon fill="#f1c09b" points="963.2,602.9 969.8,600.3 973.1,588.4 993.5,592.4 984.5,607.9 964.1,604.6"/>
<polygon fill="#f1c09b" points="1023.1,541.0 1040.9,556.2 1029.0,581.8 1008.0,560.1"/>
<polygon fill="#f1c09b" points="1004.0,568.7 1008.0,560.1 1029.0,581.8 1023.8,591.1 1005.4,587.8 1004.0,584.5 1005.4,581.8 1001.4,579.2 998.8,577.9"/>
<polygon fill="#a63f21" points="1041.3,555.5 1056.5,537.7 1057.8,537.7 1059.8,544.3 1063.7,547.6 1067.7,547.0 1071.6,551.5 1072.3,556.8 1072.9,562.1 1068.3,568.7 1063.7,575.3"/>
<polygon fill="#e56f4a" points="1068.3,568.7 1072.9,562.1 1078.2,566.0 1084.8,570.0 1077.5,575.9 1074.2,573.9"/>
<polygon fill="#f1c09b" points="1077.5,575.9 1084.8,570.0 1090.0,573.9 1090.7,577.9 1088.7,584.5 1079.5,580.5"/>
<polygon fill="#a63f21" points="1063.7,575.3 1068.3,568.7 1074.2,573.9 1077.5,575.9 1079.5,580.5 1088.7,584.5 1086.8,599.1 1079.5,600.3 1062.4,580.5"/>
<polygon fill="#e9975a" points="1062.4,580.5 1079.5,600.3 1061.7,593.7 1055.8,590.4"/>
<polygon fill="#e9975a" points="1040.9,556.2 1041.3,555.5 1063.7,575.3 1062.4,580.5 1055.8,590.4 1029.0,581.8"/>
<polygon fill="#e9975a" points="1029.0,581.8 1055.8,590.4 1041.2,613.8 1030.6,614.5 1013.5,615.2 1018.1,607.9 1015.5,606.0 1015.2,605.5 1023.8,591.1"/>
<polygon fill="#f1c09b" points="993.5,592.4 997.5,581.8 998.8,577.9 1001.4,579.2 1005.4,581.8 1004.0,584.5 1005.4,587.8 1023.8,591.1 1015.2,605.5 1015.5,606.0 1018.1,607.9 1013.5,615.2 985.9,609.2 984.5,607.9"/>
<polygon fill="#f1c09b" points="984.5,607.9 985.9,609.2 1013.5,615.2 1009.6,616.5 1003.0,631.6 997.0,631.6 979.3,621.8"/>
<polygon fill="#f1c09b" points="1055.8,590.4 1061.7,593.7 1059.8,604.5 1059.1,612.4 1041.2,613.8"/>
<polygon fill="#a63f21" points="1061.7,593.7 1079.5,600.3 1080.2,600.5 1080.8,606.5 1078.8,613.7 1059.1,612.4 1059.8,604.5"/>
<polygon fill="#f8ddd6" points="1080.2,600.5 1086.8,599.1 1095.3,609.1 1088.7,615.0 1088.1,618.3 1079.5,618.3 1078.2,616.3 1078.8,613.7 1080.8,606.5"/>
<polygon fill="#a63f21" points="1095.3,609.1 1105.2,619.0 1097.9,629.5 1094.7,631.9 1090.7,628.5 1088.7,615.0"/>
<polygon fill="#f8ddd6" points="1105.2,619.0 1105.8,616.3 1111.8,616.3 1111.8,622.3 1108.5,621.6"/>
<polygon fill="#e9975a" points="1105.2,619.0 1108.5,621.6 1109.8,624.0 1097.9,644.6 1097.9,629.5"/>
<polygon fill="#f1c09b" points="1072.9,621.3 1078.2,616.3 1079.5,618.3 1088.1,618.3 1088.7,615.0 1090.7,628.5 1088.7,633.5 1081.5,629.5"/>
<polygon fill="#f1c09b" points="1052.5,615.3 1059.1,612.4 1078.8,613.7 1078.2,616.3 1072.9,621.3 1052.5,622.9"/>
<polygon fill="#f1c09b" points="1052.5,622.9 1072.9,621.3 1067.0,627.9 1052.5,628.2"/>
<polygon fill="#e9975a" points="1067.0,627.9 1072.9,621.3 1081.5,629.5 1078.2,641.1 1074.9,643.3"/>
<polygon fill="#e56f4a" points="1052.5,628.2 1067.0,627.9 1074.9,643.3 1068.3,646.6 1058.4,647.9 1053.2,646.6"/>
<polygon fill="#f1c09b" points="1030.6,614.5 1041.2,613.8 1052.5,615.3 1052.5,622.9 1052.5,628.2 1052.4,629.6 1037.9,630.3 1025.4,629.6"/>
<polygon fill="#f8ddd6" points="1025.4,629.6 1037.9,630.3 1037.2,646.8 1034.6,646.8 1025.4,646.1 1020.1,645.5 1021.4,639.5"/>
<polygon fill="#f8ddd6" points="1037.9,630.3 1052.4,629.6 1053.2,646.6 1037.2,646.8"/>
<polygon fill="#e9975a" points="1078.2,641.1 1081.5,629.5 1088.7,633.5 1090.7,628.5 1094.7,631.9 1097.9,629.5 1097.9,644.6 1096.0,649.0 1074.9,643.3"/>
<polygon fill="#e56f4a" points="1074.9,643.3 1096.0,649.0 1091.4,663.7 1079.5,661.8"/>
<polygon fill="#f8ddd6" points="1068.3,646.6 1074.9,643.3 1079.5,661.8 1071.0,665.7"/>
<polygon fill="#e56f4a" points="1071.0,665.7 1079.5,661.8 1091.4,663.7 1089.4,670.3 1084.1,673.2 1078.2,671.6 1070.5,667.4"/>
<polygon fill="#f8ddd6" points="1058.4,647.9 1068.3,646.6 1071.0,665.7 1059.1,663.4"/>
<polygon fill="#f8ddd6" points="1049.2,649.9 1053.2,646.6 1058.4,647.9 1059.1,663.4 1051.8,664.4 1049.2,663.7"/>
<polygon fill="#f8ddd6" points="1051.8,664.4 1059.1,663.4 1071.0,665.7 1070.5,667.4 1054.5,672.3"/>
<polygon fill="#e9975a" points="1034.6,646.8 1037.2,646.8 1053.2,646.6 1049.2,649.9 1049.2,663.7 1051.8,664.4 1054.5,672.3 1046.6,676.9 1042.6,680.9 1037.2,675.1 1031.3,669.2 1031.3,665.9 1028.0,663.9 1033.9,662.6"/>
<polygon fill="#f1c09b" points="1025.4,646.1 1034.6,646.8 1033.9,662.6 1028.0,663.9 1025.4,661.3"/>
<polygon fill="#e9975a" points="1010.9,646.8 1020.1,645.5 1025.4,646.1 1025.4,661.3 1012.9,659.9 1011.5,657.3"/>
<polygon fill="#e56f4a" points="1012.9,659.9 1025.4,661.3 1028.0,663.9 1031.3,665.9 1027.3,673.8 1017.5,673.1 1013.5,671.8"/>
<polygon fill="#e9975a" points="1013.5,671.8 1017.5,673.1 1027.3,673.8 1032.0,682.3 1028.0,684.3 1019.4,688.9 1017.5,685.0 1012.9,675.1"/>
<polygon fill="#e56f4a" points="1031.3,665.9 1031.3,669.2 1037.2,675.1 1042.6,680.9 1041.2,687.6 1032.0,682.3 1027.3,673.8"/>
<polygon fill="#f1c09b" points="997.0,631.6 1003.0,631.6 1003.0,634.9 1021.4,639.5 1020.1,645.5 1010.9,646.8 1011.5,657.3 993.8,652.0"/>
<polygon fill="#e56f4a" points="1009.6,616.5 1013.5,615.2 1030.6,614.5 1025.4,629.6 1021.4,639.5 1003.0,634.9 1003.0,631.6"/>
<polygon fill="#e9975a" points="976.6,625.7 979.3,621.8 997.0,631.6 993.8,652.0 987.2,652.7 980.6,650.7 976.6,633.0"/>
<polygon fill="#e56f4a" points="964.1,604.6 984.5,607.9 979.3,621.8 976.6,625.7 976.6,633.0 968.7,631.6 960.8,625.0 956.2,623.7 953.6,619.1 956.9,612.5"/>
<polygon fill="#e56f4a" points="930.3,621.8 953.6,619.1 956.2,623.7 958.2,640.2 935.8,644.1 929.5,627.7"/>
<polygon fill="#a63f21" points="956.2,623.7 960.8,625.0 968.7,631.6 976.6,633.0 980.6,650.7 966.8,654.0 962.2,645.5 958.2,644.1 958.2,640.2"/>
<polygon fill="#e56f4a" points="935.8,644.1 958.2,640.2 958.2,644.1 962.2,645.5 966.8,654.0 965.5,660.6 944.4,662.6 941.8,652.0 935.2,651.4"/>
<polygon fill="#f1c09b" points="904.9,631.6 929.5,627.7 935.8,644.1 935.2,651.4 929.9,654.0 912.1,656.6 908.2,641.5"/>
<polygon fill="#f1c09b" points="912.1,656.6 929.9,654.0 926.6,668.6 918.7,671.8 917.4,661.3 912.8,662.6"/>
<polygon fill="#e9975a" points="929.9,654.0 935.2,651.4 941.8,652.0 944.4,662.6 945.7,687.7 937.1,689.6 934.5,680.4 927.9,674.5 926.6,668.6"/>
<polygon fill="#a63f21" points="944.4,662.6 965.5,660.6 960.8,669.2 959.5,673.2 962.8,681.1 963.5,690.3 959.5,691.0 956.9,687.7 952.9,689.0 949.0,688.3 947.0,689.6 945.7,687.7"/>
<polygon fill="#e9975a" points="960.8,669.2 966.8,667.3 972.7,683.1 965.5,691.0 963.5,690.3 962.8,681.1 959.5,673.2"/>
<polygon fill="#a63f21" points="966.8,654.0 980.6,650.7 987.2,652.7 989.8,677.8 986.5,680.0 985.2,687.9 979.3,684.0 972.7,683.1 966.8,667.3 960.8,669.2 965.5,660.6"/>
<polygon fill="#a63f21" points="987.2,652.7 993.8,652.0 1011.5,657.3 1012.9,675.1 1007.6,677.1 989.8,677.8"/>
<polygon fill="#a63f21" points="965.5,691.0 972.7,683.1 979.3,684.0 985.2,687.9 985.2,694.3 983.0,696.9 979.3,715.6 969.8,715.3 968.7,700.8"/>
<polygon fill="#a63f21" points="947.0,689.6 949.0,688.3 952.9,689.0 956.9,687.7 959.5,691.0 963.5,690.3 965.5,691.0 968.7,700.8 969.8,715.3 949.6,714.7 951.6,700.8 952.3,694.3 947.7,692.9"/>
<polygon fill="#e9975a" points="930.5,694.9 937.1,689.6 945.7,687.7 947.0,689.6 947.7,692.9 952.3,694.3 951.6,700.8 949.6,714.7 931.9,714.0"/>
<polygon fill="#e56f4a" points="919.4,692.3 928.6,691.0 930.5,694.9 931.9,714.0 918.0,713.6"/>
<polygon fill="#e56f4a" points="914.1,677.1 918.7,671.8 926.6,668.6 927.9,674.5 934.5,680.4 937.1,689.6 930.5,694.9 928.6,691.0 919.4,692.3 914.8,691.6"/>
<polygon fill="#f1c09b" points="893.1,667.3 912.1,669.9 914.1,677.1 914.8,691.6 901.7,692.3 895.8,692.3"/>
<polygon fill="#f8ddd6" points="908.2,641.5 912.1,656.6 912.8,662.6 917.4,661.3 918.7,671.8 912.1,669.9 893.1,667.3 897.8,663.9 896.4,649.4"/>
<polygon fill="#f8ddd6" points="883.9,627.7 901.7,624.4 904.9,631.6 908.2,641.5 896.4,649.4 895.1,645.5 885.9,644.1 884.6,634.9"/>
<polygon fill="#f8ddd6" points="876.7,641.5 885.9,644.1 895.1,645.5 896.4,649.4 897.8,663.9 884.6,666.5 881.3,650.7 871.4,652.7"/>
<polygon fill="#f8ddd6" points="873.4,630.3 878.0,619.1 883.9,627.7 884.6,634.9 876.7,641.5"/>
<polygon fill="#f8ddd6" points="849.7,633.6 873.4,630.3 876.7,641.5 871.4,652.7 859.6,654.7 849.0,645.5 847.7,644.1 848.4,631.0"/>
<polygon fill="#e9975a" points="859.6,654.7 871.4,652.7 881.3,650.7 884.6,666.5 883.9,673.7 863.5,679.1 862.2,671.4 860.9,657.3"/>
<polygon fill="#faf8f7" points="884.6,666.5 893.1,667.3 895.8,692.3 879.3,691.6 882.6,682.4 882.0,674.5 883.9,673.7"/>
<polygon fill="#faf8f7" points="863.5,679.1 883.9,673.7 882.0,674.5 882.6,682.4 879.3,691.6 864.8,691.0"/>
<polygon fill="#e9975a" points="832.6,671.9 862.2,671.4 863.5,679.1 864.8,691.0 842.5,691.6 834.5,689.0"/>
<polygon fill="#f8ddd6" points="830.6,657.3 860.9,657.3 862.2,671.4 832.6,671.9"/>
<polygon fill="#f8ddd6" points="826.0,644.8 832.6,644.1 833.2,645.5 847.7,644.1 849.0,645.5 859.6,654.7 860.9,657.3 830.6,657.3 828.0,652.7"/>
<polygon fill="#faf8f7" points="826.0,630.3 848.4,631.0 847.7,644.1 833.2,645.5 832.6,644.1 826.0,644.8 825.3,640.2"/>
<polygon fill="#f8ddd6" points="810.2,623.7 821.4,622.4 826.0,623.1 826.0,630.3 825.3,640.2 816.8,640.9 813.5,640.2 811.5,636.9"/>
<polygon fill="#faf8f7" points="800.3,619.1 812.8,616.5 822.7,616.5 826.0,623.1 821.4,622.4 810.2,623.7 811.5,636.9 802.9,637.5"/>
<polygon fill="#f8ddd6" points="790.4,619.1 800.3,619.1 802.9,637.5 795.0,641.5 791.1,631.6"/>
<polygon fill="#e56f4a" points="787.1,646.1 795.0,641.5 802.9,637.5 811.5,636.9 813.5,640.2 816.8,640.9 814.1,648.1 814.1,656.0 813.5,656.6 816.8,657.3 815.5,659.9 789.8,658.6 788.5,654.7"/>
<polygon fill="#faf8f7" points="816.8,640.9 825.3,640.2 826.0,644.8 828.0,652.7 814.1,656.0 814.1,648.1"/>
<polygon fill="#f8ddd6" points="773.3,631.6 791.1,631.6 795.0,641.5 787.1,646.1 788.5,654.7 758.8,653.4 757.5,650.7 762.1,646.8 770.0,641.5 771.3,634.9"/>
<polygon fill="#f1c09b" points="758.8,653.4 788.5,654.7 789.8,658.6 785.2,675.8 752.6,674.1 752.2,669.2 755.5,663.9 754.2,658.6"/>
<polygon fill="#f1c09b" points="789.8,658.6 815.5,659.9 814.8,663.9 816.8,667.9 816.8,677.1 814.8,682.4 815.5,687.7 802.9,685.0 795.0,689.0 793.7,686.4 791.8,677.1 785.2,675.8"/>
<polygon fill="#f8ddd6" points="815.5,659.9 816.8,657.3 830.6,657.3 832.6,671.9 831.2,676.5 824.0,675.8 818.7,671.9 816.8,667.9 814.8,663.9"/>
<polygon fill="#f1c09b" points="816.8,677.1 816.8,667.9 818.7,671.9 824.0,675.8 831.2,676.5 832.6,671.9 834.5,689.0 829.3,687.0 824.0,689.0 818.7,692.9 815.5,687.7 814.8,682.4"/>
<polygon fill="#f8ddd6" points="752.6,674.1 768.0,676.5 772.6,708.1 767.4,700.8 762.1,695.6 760.1,696.9 759.5,691.6 754.9,682.4"/>
<polygon fill="#f1c09b" points="768.0,676.5 785.2,675.8 791.8,677.1 793.7,686.4 795.0,689.0 796.4,709.0 772.6,708.1"/>
<polygon fill="#faf8f7" points="795.0,689.0 802.9,685.0 815.5,687.7 818.7,692.9 820.7,709.8 796.4,709.0"/>
<polygon fill="#f8ddd6" points="818.7,692.9 824.0,689.0 829.3,687.0 834.5,689.0 842.5,691.6 845.1,711.1 820.7,709.8"/>
<polygon fill="#e56f4a" points="842.5,691.6 864.8,691.0 870.8,692.7 872.7,712.0 845.1,711.1"/>
<polygon fill="#e56f4a" points="870.8,692.7 864.8,691.0 879.3,691.6 895.8,692.3 897.1,708.1 897.8,712.7 872.7,712.0"/>
<polygon fill="#f8ddd6" points="895.8,692.3 901.7,692.3 903.0,707.4 897.1,708.1"/>
<polygon fill="#f8ddd6" points="901.7,692.3 914.8,691.6 919.4,692.3 918.0,713.6 897.8,712.7 897.1,708.1 903.0,707.4"/>
<polygon fill="#e56f4a" points="983.0,696.9 985.2,694.3 999.7,699.1 1006.9,703.7 997.0,716.4 979.3,715.6"/>
<polygon fill="#e56f4a" points="986.5,680.0 989.8,677.8 1007.6,677.1 1008.2,683.1 999.7,699.1 985.2,694.3 985.2,687.9"/>
<polygon fill="#a63f21" points="1007.6,677.1 1012.9,675.1 1017.5,685.0 1019.4,688.9 1018.1,691.0 1019.2,705.5 1006.9,703.7 999.7,699.1 1008.2,683.1"/>
</g>
<g stroke="#969696" stroke-width="0.8" fill="none">
<polyline points="971.0,294.3 1007.7,277.1"/>
<polyline points="1007.7,277.1 1016.7,276.6 1014.3,284.0 1008.5,283.6 1007.7,277.1"/>
<polyline points="971.5,295.2 983.0,291.0 1008.5,292.3 1014.3,284.0"/>
<polyline points="983.0,291.0 985.5,300.9 986.3,306.7 980.5,320.7 984.6,328.0"/>
<polyline points="986.3,306.7 990.4,303.4 997.8,303.8 991.2,315.7 988.7,324.0"/>
<polyline points="997.8,303.8 1005.2,303.0 997.8,328.0"/>
<polyline points="974.8,306.7 983.0,300.1"/>
<polyline points="971.9,312.4 976.4,311.6 980.5,320.7"/>
<polyline points="972.3,323.8 978.9,327.1 979.7,341.9 982.6,349.3 986.3,350.2"/>
<polyline points="978.9,318.0 981.8,322.9 985.5,324.6 987.6,344.3 990.4,345.6"/>
<polyline points="985.5,324.6 990.0,322.9 990.8,318.0"/>
</g>
<g font-family="'Liberation Sans',sans-serif" font-size="9" fill="#000" stroke="#000" stroke-width="0.1" text-anchor="middle">
<text x="995.3" y="52.8">Pittsburg</text>
<text x="1028.5" y="105.4">Atkinson and Gilmanton Academy Grant</text>
<text x="1032" y="123.5">Second College Grant</text>
<text x="1028.5" y="142.1">Wentworth Location</text>
<text x="986.9" y="154.5">Ervings Grant</text>
<text x="1028.6" y="164.7">Errol</text>
<text x="981.3" y="171.1">Odell</text>
<text x="948.5" y="183.2">Stratford</text>
<text x="1034.3" y="193.4">Cambridge</text>
<text x="951.2" y="215.5">Northumberland</text>
<text x="1008.6" y="220.2">Milan</text>
<text x="941" y="233.6">Lancaster</text>
<text x="940.2" y="244.2">6</text>
<text x="1001.4" y="234.2">Berlin</text>
<text x="1000.7" y="245">17</text>
<text x="1037" y="235.5">Success</text>
<text x="1037" y="265.5">Shelburne</text>
<text x="890.8" y="272.5">Littleton</text>
<text x="890.7" y="282.4">10</text>
<text x="938.4" y="271.6">Whitefield</text>
<text x="1000" y="289.6">Thompson and Meserves Purchase</text>
<text x="856.8" y="296.6">Monroe</text>
<text x="946" y="300.8">Bethlehem</text>
<text x="946" y="310.7">7</text>
<text x="985" y="300.8">Chandlers Purchase</text>
<text x="898.9" y="314.1">Sugar Hill</text>
<text x="859.4" y="319.5">Bath</text>
<text x="883.5" y="327.5">Landaff</text>
<text x="900.2" y="339.6">Easton</text>
<text x="945.3" y="343.6">Lincoln</text>
<text x="945" y="353.1">9</text>
<text x="990" y="337.7">Hadleys Purchase</text>
<text x="855" y="349.5">Haverhill</text>
<text x="1045.3" y="328.8">Chatham</text>
<text x="1010" y="348.9">Bartlett</text>
<text x="882.6" y="359.8">Benton</text>
<text x="909.6" y="372.2">Woodstock</text>
<text x="850.4" y="376.5">Piermont</text>
<text x="883.8" y="385.5">Warren</text>
<text x="961.2" y="385.5">Waterville Valley</text>
<text x="870.3" y="403.5">Wentworth</text>
<text x="966.5" y="412.5">Sandwich</text>
<text x="863.6" y="433.5">Dorchester</text>
<text x="911.5" y="432.4">Plymouth</text>
<text x="911.6" y="442.8">45</text>
<text x="821.2" y="441.2">Hanover</text>
<text x="819.8" y="451.4">7</text>
<text x="1020.3" y="361.8">Hales Location</text>
<text x="1038.9" y="367">Conway</text>
<text x="1038.1" y="376.5">12</text>
<text x="1025.9" y="392.7">Madison</text>
<text x="1025.3" y="402.2">7</text>
<text x="1038.2" y="415.8">Freedom</text>
<text x="1037.2" y="425">7</text>
<text x="808" y="464">Lebanon</text>
<text x="808.5" y="473.5">13</text>
<text x="876.7" y="466.9">Orange</text>
<text x="864.4" y="487.7">Grafton</text>
<text x="915.8" y="469.5">Bristol</text>
<text x="914.9" y="479.4">11</text>
<text x="890" y="501.8">Danbury</text>
<text x="850.3" y="507.2">Springfield</text>
<text x="823.3" y="517.6">Croydon</text>
<text x="863.2" y="528">New London</text>
<text x="984" y="446.5">Moultonborough</text>
<text x="983.2" y="456.3">8</text>
<text x="1018.4" y="470.6">Wolfeboro</text>
<text x="1016.8" y="480.3">7</text>
<text x="964.3" y="483.6">Laconia</text>
<text x="963.5" y="493.5">33</text>
<text x="1026" y="507.2">New Durham</text>
<text x="1026" y="517">6</text>
<text x="938.8" y="521.5">Northfield</text>
<text x="938.2" y="532.5">12</text>
<text x="792.5" y="536.7">Claremont</text>
<text x="791.5" y="546.6">39</text>
<text x="853.4" y="552.6">Newbury</text>
<text x="892.1" y="551.8">Warner</text>
<text x="890.9" y="561.4">5</text>
<text x="784.3" y="566.4">Charlestown</text>
<text x="782.9" y="575.6">7</text>
<text x="844.8" y="587.9">Washington</text>
<text x="869.6" y="593">Hillsborough</text>
<text x="868.5" y="602.3">8</text>
<text x="778" y="606.9">Walpole</text>
<text x="778.6" y="617.5">6</text>
<text x="799.4" y="606.9">Alstead</text>
<text x="930.8" y="545.6">Boscawen</text>
<text x="930.5" y="555.5">8</text>
<text x="967.6" y="550.9">Loudon</text>
<text x="967.2" y="560.5">14</text>
<text x="1038.5" y="533.8">Farmington</text>
<text x="1036.9" y="543.4">6</text>
<text x="1011.5" y="575.5">Northwood</text>
<text x="1011.3" y="586.5">7</text>
<text x="920.4" y="581.6">Hopkinton</text>
<text x="919.1" y="591.7">5</text>
<text x="975.7" y="598.4">Allenstown</text>
<text x="975.3" y="607.5">5</text>
<text x="1025.4" y="601.1">Nottingham</text>
<text x="1024.4" y="610.2">12</text>
<text x="1078.1" y="564.7">Somersworth</text>
<text x="1078.2" y="574.6">34</text>
<text x="1074.6" y="604.5">Durham</text>
<text x="1073.6" y="614.4">361</text>
<text x="818.8" y="635.6">Sullivan</text>
<text x="864.4" y="626.8">Antrim</text>
<text x="774.5" y="645.5">Westmoreland</text>
<text x="806.2" y="646.8">Keene</text>
<text x="805.8" y="656.3">35</text>
<text x="893.8" y="640.7">Francestown</text>
<text x="842.8" y="653.6">Harrisville</text>
<text x="872.9" y="662.6">Peterborough</text>
<text x="872.5" y="672.5">12</text>
<text x="768.4" y="665.9">Chesterfield</text>
<text x="768.4" y="676.4">9</text>
<text x="829.5" y="697.9">Fitzwilliam</text>
<text x="914" y="621.2">Weare</text>
<text x="922.2" y="640.5">New Boston</text>
<text x="921.3" y="650.1">5</text>
<text x="935" y="667.6">Amherst</text>
<text x="934.2" y="677.3">15</text>
<text x="967.5" y="618.5">Hooksett</text>
<text x="967.2" y="628.3">45</text>
<text x="1014.6" y="625.1">Raymond</text>
<text x="1014.2" y="634.3">26</text>
<text x="981.8" y="667.6">Londonderry</text>
<text x="980.3" y="677.3">87</text>
<text x="1041.1" y="656.3">Kingston</text>
<text x="1041.4" y="665.2">14</text>
<text x="1088.9" y="637.7">North Hampton</text>
<text x="1088.7" y="647.3">16</text>
<text x="1082.3" y="663">Seabrook</text>
<text x="1081.5" y="672.3">24</text>
<text x="898.7" y="701">Greenville</text>
</g>
</svg>
<div class="abs" style="left:639.5px;top:698.5px;font-size:12.35px;color:#767676;">© OpenStreetMap</div>
</body>
</html>
